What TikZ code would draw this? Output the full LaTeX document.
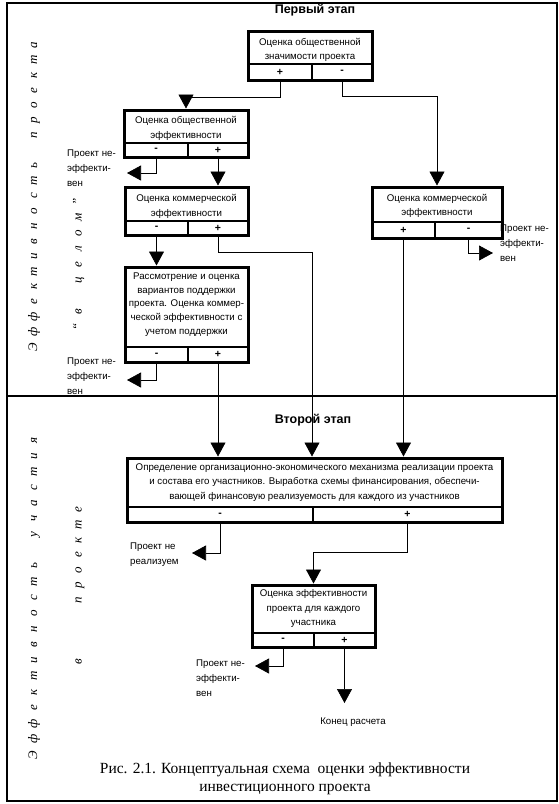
\documentclass[tikz,border=0pt]{standalone}
\usepackage{fontspec}
\setmainfont{Liberation Sans}
\newfontfamily\capfont{Liberation Serif}
\usetikzlibrary{arrows.meta,calc}
\newcommand\stagebox[9]{%
  % #1 name, #2 left, #3 top, #4 right, #5 bottom, #6 row y, #7 divider x, #8 left sign, #9 right sign
  \pgfmathsetmacro\sbwa{#7-#2}\pgfmathsetmacro\sbwb{#4-#7}%
  \pgfmathsetmacro\sbh{#5-#6}\pgfmathsetmacro\sbW{#4-#2}\pgfmathsetmacro\sbH{#5-#3}%
  \pgfmathsetmacro\sbxa{(#2+#7)/2}\pgfmathsetmacro\sbxb{(#7+#4)/2}\pgfmathsetmacro\sby{(#6+#5)/2}%
  \pgfmathsetmacro\sbX{(#2+#4)/2}\pgfmathsetmacro\sbY{(#3+#5)/2}%
  \node[cell, minimum width=\sbwa pt, minimum height=\sbh pt] (#1a) at (\sbxa,\sby) {#8};
  \node[cell, minimum width=\sbwb pt, minimum height=\sbh pt] (#1b) at (\sbxb,\sby) {#9};
  \node[boxedge, minimum width=\sbW pt, minimum height=\sbH pt] (#1) at (\sbX,\sbY) {};
}
\begin{document}
\begin{tikzpicture}[x=1pt,y=-1pt,
  conn/.style={line width=0.7pt,-{Triangle[length=14pt,width=15pt]}},
  cell/.style={draw,line width=1.1pt,inner sep=0pt,font=\fontsize{10.5}{11}\selectfont\bfseries},
  boxedge/.style={draw,line width=3pt,inner sep=0pt},
  btext/.style={align=center,inner sep=0pt,font=\fontsize{9.7}{14.5}\selectfont},
  note/.style={align=left,anchor=west,inner sep=0pt,font=\fontsize{9.7}{15}\selectfont},
  stagetitle/.style={inner sep=0pt,font=\fontsize{12.5}{14}\selectfont\bfseries},
  vlet/.style={rotate=90,anchor=base,inner sep=0pt,font=\capfont\itshape\fontsize{13}{14}\selectfont},
  captext/.style={align=center,inner sep=0pt,font=\capfont\fontsize{15.5}{18.5}\selectfont}]
\useasboundingbox (0,0) rectangle (559,804);
% outer frame and stage divider
\draw[line width=1.5pt] (7,3) rectangle (557,801);
\draw[line width=1.8pt] (7,396) -- (557,396);
% titles
\node[stagetitle] (t1) at (315,10) {Первый этап};
\node[stagetitle] (t2) at (313,420) {Второй этап};
% boxes
\stagebox{b1}{248}{31}{372}{80}{64}{312}{+}{-}
\node[btext] (b1t) at (310,50) {Оценка общественной\\значимости проекта};
\stagebox{b2}{124}{110}{248}{157}{143}{188}{-}{+}
\node[btext] (b2t) at (186,128.5) {Оценка общественной\\эффективности};
\stagebox{b3}{125}{187}{248}{235}{221}{188}{-}{+}
\node[btext] (b3t) at (186.5,206.5) {Оценка коммерческой\\эффективности};
\stagebox{b4}{125}{267}{248}{362}{347}{188}{-}{+}
\node[btext,font=\fontsize{9.7}{13.75}\selectfont] (b4t) at (186.5,304.5) {Рассмотрение и оценка\\вариантов поддержки\\проекта. Оценка коммер-\\ческой эффективности с\\учетом поддержки};
\stagebox{b5}{372}{187}{502}{238}{222}{435}{+}{-}
\node[btext] (b5t) at (437,206) {Оценка коммерческой\\эффективности};
\stagebox{big}{127}{458}{502}{522}{507}{313}{-}{+}
\node[btext] (bigt) at (314.5,482.5) {Определение организационно-экономического механизма реализации проекта\\и состава его участников. Выработка схемы финансирования, обеспечи-\\вающей финансовую реализуемость для каждого из участников};
\stagebox{b6}{252}{585}{375}{647}{633}{314}{-}{+}
\node[btext] (b6t) at (313.5,608.5) {Оценка эффективности\\проекта для каждого\\участника};
% notes
\node[note] (n2) at (67,168) {Проект не-\\эффекти-\\вен};
\node[note] (n4) at (67,376) {Проект не-\\эффекти-\\вен};
\node[note] (n5) at (500,243) {Проект не-\\эффекти-\\вен};
\node[note] (n7) at (130,554.5) {Проект не\\реализуем};
\node[note] (n8) at (196,678) {Проект не-\\эффекти-\\вен};
\node[inner sep=0pt,font=\fontsize{9.7}{11}\selectfont] (fintext) at (353,722) {Конец расчета};
% free ends
\coordinate (e2) at (127,173);
\coordinate (e4) at (127,380);
\coordinate (e5) at (493,253);
\coordinate (e7) at (192,553);
\coordinate (e8) at (255,666);
\coordinate (j3) at (312,252);
\coordinate (fin) at (344.5,703);
% connectors
\draw[conn] (b1a.south) -- ++(0,17) -| (b2.north);
\draw[conn] (b1b.south) -- ++(0,16) -| (b5.north);
\draw[conn] (b2a.south) |- (e2);
\draw[conn] (b2b.south) -- (b2b.south |- b3.north);
\draw[conn] (b3a.south) -- (b3a.south |- b4.north);
\draw[conn] (b3b.south) |- (j3) -- (j3 |- big.north);
\draw[conn] (b4a.south) |- (e4);
\draw[conn] (b4b.south) -- (b4b.south |- big.north);
\draw[conn] (b5a.south) -- (b5a.south |- big.north);
\draw[conn] (b5b.south) |- (e5);
\draw[conn] (biga.south) |- (e7);
\draw[conn] (bigb.south) -- ++(0,30) -| (b6.north);
\draw[conn] (b6a.south) |- (e8);
\draw[conn] (b6b.south) -- (fin);
% vertical side texts
\foreach \c [count=\i from 0] in {Э,ф,ф,е,к,т,и,в,н,о,с,т,ь,{},п,р,о,е,к,т,а}
  \node[vlet] (va\i) at (37,{347-15.1*\i}) {\c};
\foreach \c [count=\i from 0] in {“,в,{},ц,е,л,о,м,”}
  \node[vlet] (vb\i) at (81.5,{327-15.6*\i}) {\c};
\foreach \c [count=\i from 0] in {Э,ф,ф,е,к,т,и,в,н,о,с,т,ь,{},у,ч,а,с,т,и,я}
  \node[vlet] (vc\i) at (37,{755-15.75*\i}) {\c};
\node[vlet] (vdv) at (81.5,662) {в};
\foreach \c [count=\i from 0] in {п,р,о,е,к,т,е}
  \node[vlet] (vd\i) at (81.5,{600-15*\i}) {\c};
% caption
\node[captext] (cap) at (285,779) {Рис. 2.1. Концептуальная схема\ \ оценки эффективности\\инвестиционного проекта};
\end{tikzpicture}
\end{document}
